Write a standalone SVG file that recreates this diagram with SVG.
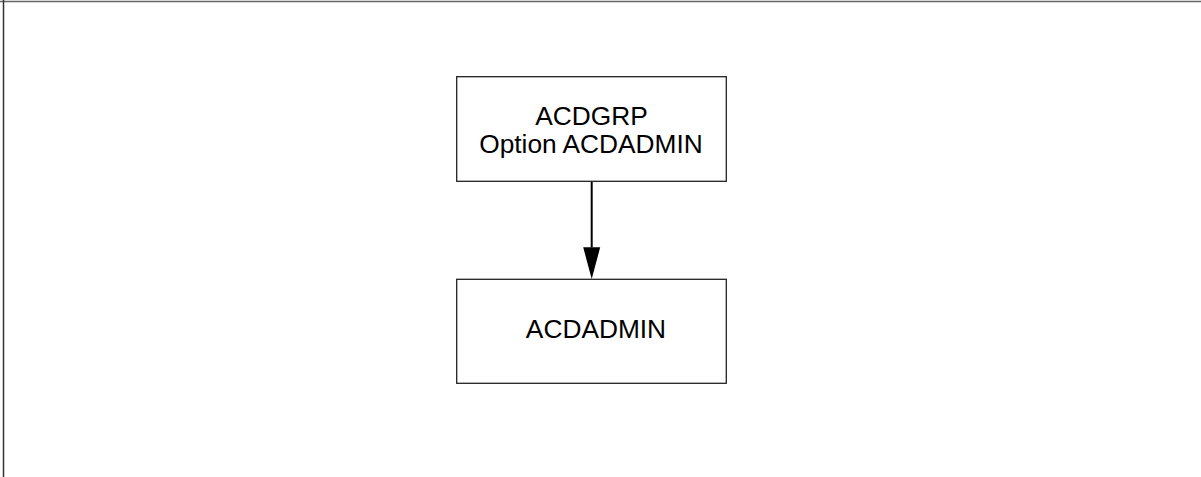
<svg xmlns="http://www.w3.org/2000/svg" width="1201" height="477" viewBox="0 0 1201 477">
<style>
.box{fill:#fff;stroke:#222;stroke-width:1.3}
.lbl{font-family:"Liberation Sans",Arial,sans-serif;font-size:26.3px;fill:#000;text-anchor:middle}
.conn{stroke:#000;stroke-width:2;fill:none}
</style>
<rect width="1201" height="477" fill="#fff"/>
<g id="frame">
<line x1="0" y1="1.5" x2="1201" y2="1.5" stroke="#666" stroke-width="1.5"/>
<line x1="3.5" y1="0" x2="3.5" y2="477" stroke="#333" stroke-width="1.5"/>
</g>
<g id="node-acdgrp">
<rect class="box" x="456.7" y="76.7" width="269.6" height="104.6"/>
<text class="lbl" x="591.5" y="125">ACDGRP</text>
<text class="lbl" x="591" y="153">Option ACDADMIN</text>
</g>
<g id="node-acdadmin">
<rect class="box" x="456.7" y="279.3" width="269.6" height="104"/>
<text class="lbl" x="596" y="337.5">ACDADMIN</text>
</g>
<g id="connectors">
<path d="M591.7,182 V247.5" class="conn"/>
<path d="M583.2,247.3 L600.2,247.3 L591.7,279 Z" fill="#000"/>
</g>
</svg>
